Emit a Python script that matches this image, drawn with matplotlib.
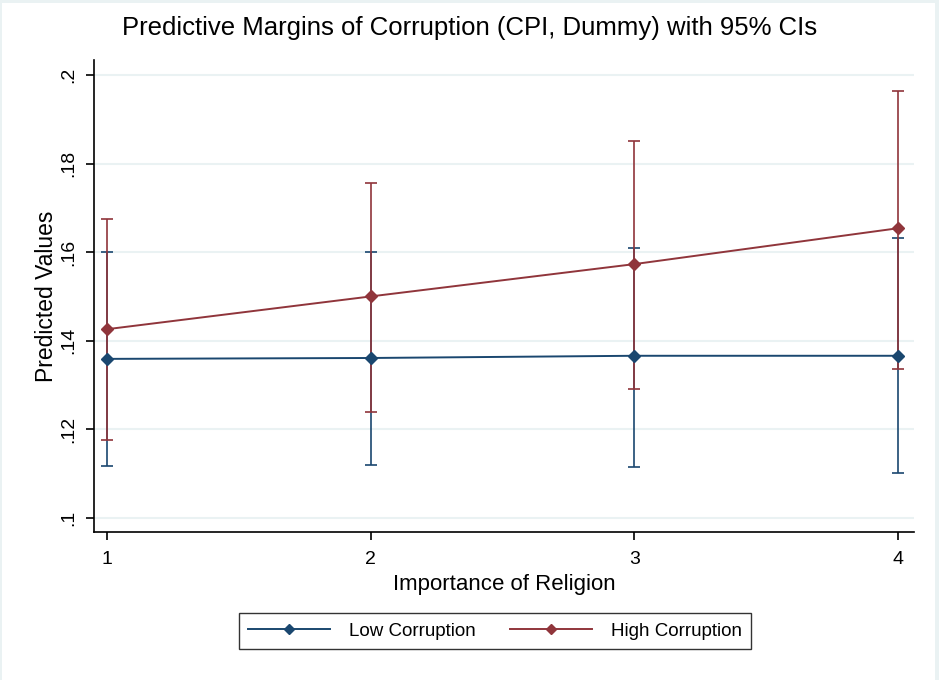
import matplotlib
matplotlib.use("Agg")
import matplotlib.pyplot as plt
from matplotlib.patches import Rectangle

plt.rcParams["font.family"] = ["Liberation Sans", "DejaVu Sans"]

# predictive margins
religion = [1, 2, 3, 4]
low_margin = [0.1359, 0.1361, 0.1366, 0.1366]
low_lower = [0.1116, 0.1120, 0.1114, 0.1101]
low_upper = [0.1600, 0.1600, 0.1609, 0.1631]
high_margin = [0.1426, 0.1500, 0.1573, 0.1654]
high_lower = [0.1175, 0.1238, 0.1290, 0.1336]
high_upper = [0.1676, 0.1757, 0.1852, 0.1965]

y_ticks = [0.10, 0.12, 0.14, 0.16, 0.18, 0.20]
x_ticks = [1, 2, 3, 4]

NAVY = "#1a476f"
MAROON = "#90353b"
GRID = "#eaf2f3"

fig = plt.figure(figsize=(9.39, 6.80), dpi=100, facecolor=GRID)
fig.patches.append(Rectangle((2 / 939, 0), 933 / 939, 677 / 680,
                             transform=fig.transFigure, facecolor="white",
                             edgecolor="none", zorder=-10))
ax = fig.add_axes([94 / 939, 148 / 680, 820 / 939, 472 / 680])
ax.set_facecolor("none")


def draw(margin, lower, upper, color, label):
    yerr = [[m - lo for m, lo in zip(margin, lower)],
            [hi - m for m, hi in zip(margin, upper)]]
    ax.errorbar(religion, margin, yerr=yerr, fmt="none", ecolor=color,
                elinewidth=1.2, capsize=4, capthick=1.2, zorder=3)
    ax.plot(religion, margin, color=color, lw=1.4, marker="D", ms=6,
            label=label, zorder=4)


draw(low_margin, low_lower, low_upper, NAVY, "Low Corruption")
draw(high_margin, high_lower, high_upper, MAROON, "High Corruption")

ax.set_xlim(0.951, 4.061)
ax.set_ylim(0.0968, 0.2034)
ax.set_xticks(x_ticks)
ax.set_yticks(y_ticks)
ax.set_yticklabels([f"{v:.2f}".lstrip("0").rstrip("0") for v in y_ticks],
                   rotation=90, va="center")
ax.tick_params(labelsize=14, length=6, width=1.2, colors="black")
ax.tick_params(axis="x", pad=8)
ax.tick_params(axis="y", pad=6)
ax.grid(axis="y", color=GRID, lw=1.5)
ax.set_axisbelow(True)
for side in ("top", "right"):
    ax.spines[side].set_visible(False)
for side in ("left", "bottom"):
    ax.spines[side].set_linewidth(1.2)

ax.set_xlabel("Importance of Religion", fontsize=16, labelpad=4)
ax.set_ylabel("Predicted Values", fontsize=16.5, labelpad=2)
fig.suptitle("Predictive Margins of Corruption (CPI, Dummy) with 95% CIs",
             fontsize=18.5, y=1 - 28 / 680, va="center")

leg = fig.legend(loc="center", bbox_to_anchor=(495 / 939, 1 - 631 / 680),
                 ncol=2, fontsize=13.5, frameon=True, fancybox=False,
                 edgecolor="black", handlelength=4.4, columnspacing=1.8,
                 handletextpad=1.0, borderpad=0.5, markerscale=0.8)
leg.get_frame().set_linewidth(1.0)

fig.savefig("out.png", dpi=100, facecolor=fig.get_facecolor())
